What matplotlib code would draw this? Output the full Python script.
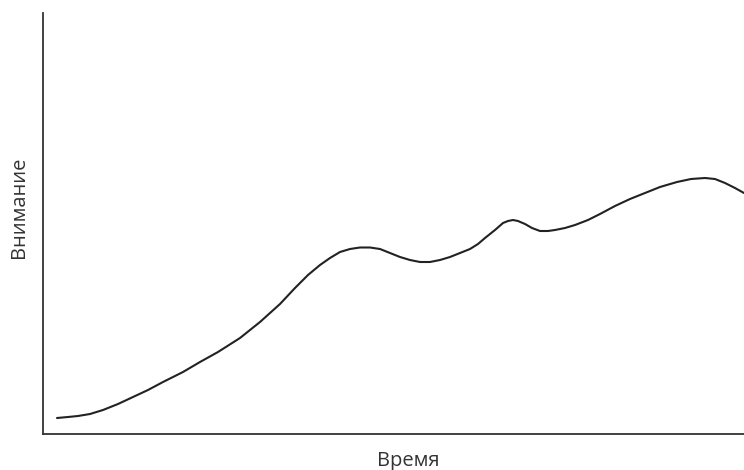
import numpy as np
import matplotlib.pyplot as plt

plt.rcParams['font.family'] = ['Open Sans', 'DejaVu Sans']

# время (условные единицы) и внимание
time = [14, 25, 35, 47, 60, 75, 90, 105, 120, 140, 157, 175, 197, 217, 237,
        252, 265, 277, 287, 297, 307, 317, 327, 337, 347, 357, 367, 377, 387,
        397, 407, 417, 427, 435, 442, 452, 460, 465, 470, 475, 482, 489, 497,
        505, 512, 522, 532, 545, 557, 572, 587, 602, 617, 634, 648, 662,
        672, 682, 692, 701]
attention = [16, 17, 18, 20, 24, 30, 37, 44, 52, 62, 72, 82, 96, 112, 130,
             146, 159, 169, 176, 182, 185, 186.5, 186.5, 185, 181, 177, 174, 172, 172,
             174, 177, 181, 185, 190, 196, 204, 211, 213, 214, 213, 210, 206, 203,
             203, 204, 206, 209, 214, 220, 228, 235, 241, 247, 252, 255, 256,
             255, 251, 246, 241]

fig = plt.figure(figsize=(7.44, 4.70), dpi=100)
ax = fig.add_axes([43 / 744, 36 / 470, 701 / 744, 421 / 470])

ax.plot(time, attention, color='#222222', linewidth=1.5,
        solid_capstyle='round', solid_joinstyle='round')

ax.set_xlim(0, 701)
ax.set_ylim(0, 421)
ax.set_xticks([])
ax.set_yticks([])
ax.spines['top'].set_visible(False)
ax.spines['right'].set_visible(False)
for s in ('left', 'bottom'):
    ax.spines[s].set_color('#333333')
    ax.spines[s].set_linewidth(1.3)

fig.text(408 / 744, 1 - 461 / 470, 'Время', ha='center', va='center',
         fontsize=14.5, color='#333333')
fig.text(19 / 744, 1 - 207 / 470, 'Внимание', ha='center', va='center',
         rotation=90, fontsize=14.5, color='#333333')

fig.savefig('out.png', dpi=100)
